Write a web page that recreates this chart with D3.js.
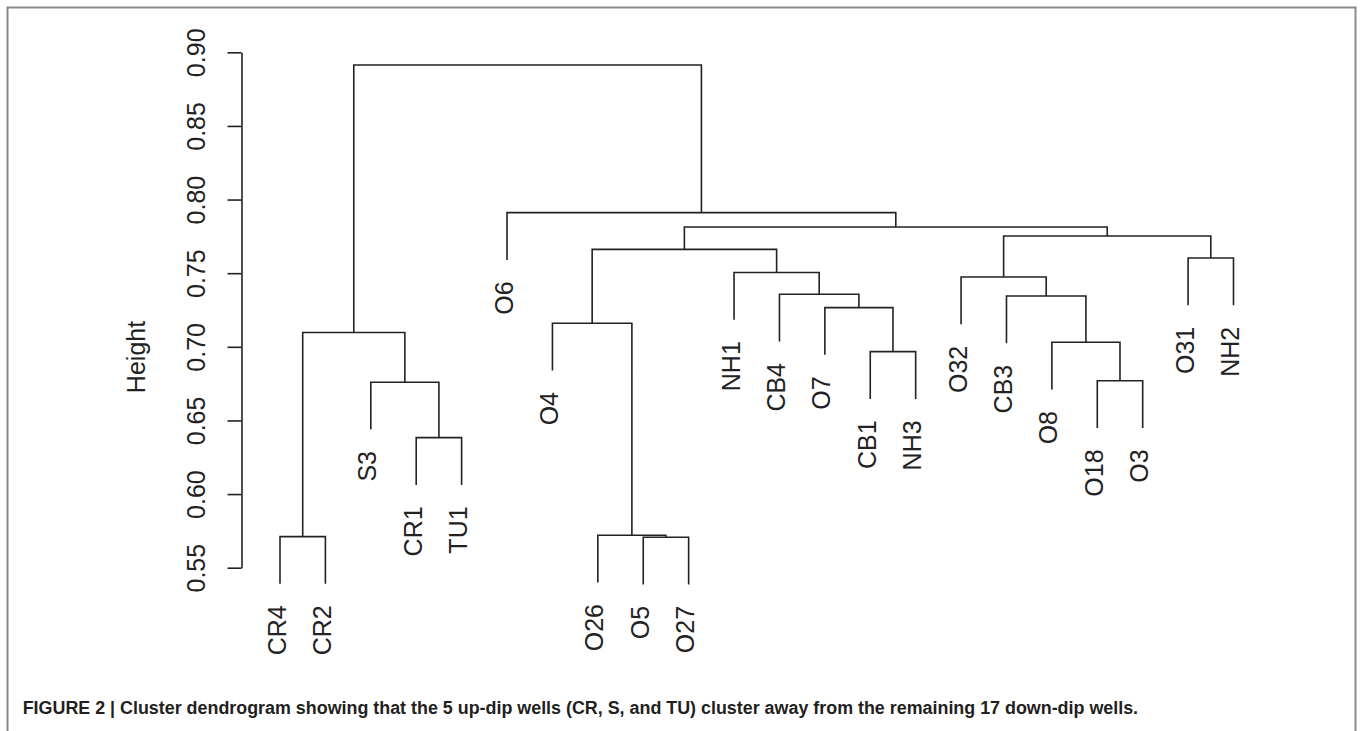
<!DOCTYPE html>
<html>
<head>
<meta charset="utf-8">
<script src="https://cdn.jsdelivr.net/npm/d3@7"></script>
<style>
  html, body { margin: 0; padding: 0; background: #fff; }
  svg { display: block; }
  text { font-family: "Liberation Sans", Arial, Helvetica, sans-serif; }
</style>
</head>
<body>
<svg id="chart" width="1365" height="731"></svg>
<script>
// ---- Data ----
const labels = ["CR4","CR2","S3","CR1","TU1","O6","O4","O26","O5","O27","NH1",
                "CB4","O7","CB1","NH3","O32","CB3","O8","O18","O3","O31","NH2"];

// Merge steps (like R's hclust$merge): leaf names or "m<k>" = k-th merge
const merges = [
  ["CR4","CR2"],   // m1
  ["O5","O27"],    // m2
  ["O26","m2"],    // m3
  ["CR1","TU1"],   // m4
  ["CB1","NH3"],   // m5
  ["O18","O3"],    // m6
  ["S3","m4"],     // m7
  ["O8","m6"],     // m8
  ["m1","m7"],     // m9
  ["O4","m3"],     // m10
  ["O7","m5"],     // m11
  ["CB4","m11"],   // m12
  ["CB3","m8"],    // m13
  ["O32","m13"],   // m14
  ["NH1","m12"],   // m15
  ["O31","NH2"],   // m16
  ["m10","m15"],   // m17
  ["m14","m16"],   // m18
  ["m17","m18"],   // m19
  ["O6","m19"],    // m20
  ["m9","m20"]     // m21
];
const mergeHeights = [0.5711,0.5707,0.5720,0.6383,0.6967,0.6770,0.6759,0.7031,0.7097,0.7160,
                      0.7266,0.7357,0.7345,0.7474,0.7505,0.7603,0.7662,0.7753,0.7814,0.7911,0.8914];

const yTicks = [0.55,0.60,0.65,0.70,0.75,0.80,0.85,0.90];
const yTitle = "Height";
const hang = 0.1;
const caption = "FIGURE 2 | Cluster dendrogram showing that the 5 up-dip wells (CR, S, and TU) cluster away from the remaining 17 down-dip wells.";

// ---- Layout ----
const svg = d3.select("#chart");
const ink = "#222";
const fontSize = 25;

const x = d3.scaleLinear().domain([1, labels.length]).range([280, 1233.5]);
const y = d3.scaleLinear().domain([0.55, 0.90]).range([567.7, 52.3]);
const axisX = 241.5;

// frame
svg.append("path")
  .attr("d", "M7.5,740V7.5H1355.5V740")
  .attr("fill", "none").attr("stroke", "#8a8a8a").attr("stroke-width", 2);

// node positions
const hRange = d3.max(mergeHeights) - d3.min(mergeHeights);
const hangH = hang * hRange;
const pos = {};
labels.forEach((l, i) => { pos[l] = { x: x(i + 1), h: null, leaf: true }; });
merges.forEach((m, k) => {
  const a = pos[m[0]], b = pos[m[1]];
  pos["m" + (k + 1)] = { x: (a.x + b.x) / 2, h: mergeHeights[k], leaf: false };
});

// branches
const g = svg.append("g");
const leafBottom = {};
merges.forEach((m, k) => {
  const h = mergeHeights[k];
  const a = pos[m[0]], b = pos[m[1]];
  const ha = a.leaf ? h - hangH : a.h;
  const hb = b.leaf ? h - hangH : b.h;
  if (a.leaf) leafBottom[m[0]] = h - hangH;
  if (b.leaf) leafBottom[m[1]] = h - hangH;
  const p = d3.path();
  p.moveTo(a.x, y(ha));
  p.lineTo(a.x, y(h));
  p.lineTo(b.x, y(h));
  p.lineTo(b.x, y(hb));
  g.append("path").attr("d", p.toString())
    .attr("fill", "none").attr("stroke", ink).attr("stroke-width", 1.6);
});

// leaf labels
svg.append("g").selectAll("text").data(labels).join("text")
  .attr("transform", d => `translate(${x(labels.indexOf(d) + 1)},${y(leafBottom[d]) + 21.5}) rotate(-90)`)
  .attr("text-anchor", "end")
  .attr("dy", "0.22em")
  .attr("font-size", fontSize)
  .attr("fill", ink)
  .text(d => d);

// y axis
const axis = d3.axisLeft(y).tickValues(yTicks).tickFormat(d3.format(".2f"))
  .tickSizeInner(14).tickSizeOuter(0);
const ag = svg.append("g").attr("transform", `translate(${axisX},0)`).call(axis);
ag.select(".domain").attr("stroke", ink).attr("stroke-width", 1.6);
ag.selectAll(".tick line").attr("stroke", ink).attr("stroke-width", 1.6);
ag.selectAll(".tick text")
  .attr("x", null).attr("dy", "0.35em")
  .attr("transform", "translate(-45,0) rotate(-90)")
  .attr("text-anchor", "middle")
  .attr("font-size", fontSize)
  .attr("font-family", null)
  .attr("fill", ink);
ag.attr("font-family", null).attr("font-size", null);

// y title
svg.append("text")
  .attr("transform", "translate(136,357) rotate(-90)")
  .attr("text-anchor", "middle").attr("dy", "0.35em")
  .attr("font-size", fontSize).attr("fill", ink)
  .text(yTitle);

// caption
const cap = svg.append("text")
  .attr("x", 22.7).attr("y", 714)
  .attr("font-size", 17).attr("font-weight", "bold").attr("fill", "#231f20")
  .text(caption);
const w = cap.node().getComputedTextLength();
const targetW = 1116;
if (w > 0) cap.attr("font-size", Math.max(15, Math.min(18, 17 * targetW / w)));
</script>
</body>
</html>
